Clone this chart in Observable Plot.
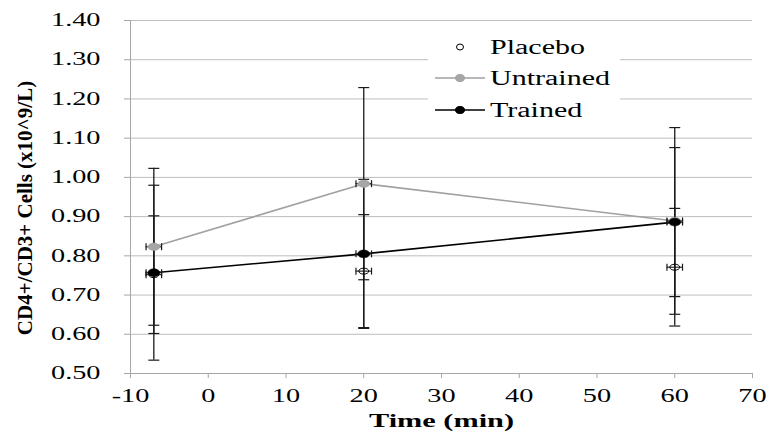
<!DOCTYPE html>
<html><head><meta charset="utf-8">
<script src="https://cdn.jsdelivr.net/npm/d3@7"></script>
<script src="https://cdn.jsdelivr.net/npm/@observablehq/plot@0.6"></script>
<style>
body{margin:0;background:#fff;}
#wrap{position:relative;width:767px;height:432px;}
#legend{position:absolute;left:428px;top:31px;width:192px;height:94px;background:#fff;font-family:"Liberation Serif","Times New Roman",Times,serif;font-size:20px;color:#000;}
.row{position:absolute;left:0;height:30px;width:192px;}
.row svg{position:absolute;left:0;top:0;}
.row span{position:absolute;left:62px;top:50%;transform:translateY(-50%) scaleX(1.5);transform-origin:left center;white-space:nowrap;line-height:1;}
svg text{font-family:"Liberation Serif","Times New Roman",Times,serif;}
</style></head>
<body><div id="wrap"><div id="chart"></div><div id="legend"></div></div>
<script>
const times = [-7, 20, 60];
const timeErr = [1, 1, 1];
const seriesNames = ["Placebo", "Untrained", "Trained"];
const placebo = [0.752, 0.761, 0.771];
const placeboErr = [0.15, 0.144, 0.15];
const untrained = [0.823, 0.984, 0.889];
const untrainedErr = [0.2, 0.245, 0.238];
const trained = [0.757, 0.805, 0.886];
const trainedErr = [0.223, 0.19, 0.19];
const xTicks = [-10, 0, 10, 20, 30, 40, 50, 60, 70];
const yTicks = [0.5, 0.6, 0.7, 0.8, 0.9, 1.0, 1.1, 1.2, 1.3, 1.4];
const xTitle = "Time (min)";
const yTitle = "CD4+/CD3+ Cells (x10^9/L)";

const values = {Placebo: [placebo, placeboErr], Untrained: [untrained, untrainedErr], Trained: [trained, trainedErr]};
const rows = [];
for (const s of seriesNames) {
  const [v, e] = values[s];
  times.forEach((t, i) => rows.push({series: s, t, v: v[i], e: e[i], xe: timeErr[i]}));
}
const bySeries = s => rows.filter(d => d.series === s);

function ellipse(ratio) {
  return {draw(ctx, size) {
    const rx = Math.sqrt(size / Math.PI), ry = rx * ratio, k = 0.5523;
    ctx.moveTo(rx, 0);
    ctx.bezierCurveTo(rx, ry * k, rx * k, ry, 0, ry);
    ctx.bezierCurveTo(-rx * k, ry, -rx, ry * k, -rx, 0);
    ctx.bezierCurveTo(-rx, -ry * k, -rx * k, -ry, 0, -ry);
    ctx.bezierCurveTo(rx * k, -ry, rx, -ry * k, rx, 0);
    ctx.closePath();
  }};
}
const hcap = {draw(ctx, size) { const r = Math.sqrt(size / Math.PI); ctx.moveTo(-r, 0); ctx.lineTo(r, 0); }};
const vcap = {draw(ctx, size) { const r = Math.sqrt(size / Math.PI); ctx.moveTo(0, -r); ctx.lineTo(0, r); }};
const errColor = "#1a1a1a";
const serif = '"Liberation Serif", "Times New Roman", Times, serif';

const chart = Plot.plot({
  width: 767, height: 432,
  marginLeft: 130, marginRight: 15, marginTop: 20, marginBottom: 59,
  style: {fontFamily: serif, fontSize: "18px", color: "#000", background: "#fff"},
  x: {domain: [xTicks[0], xTicks[xTicks.length - 1]]},
  y: {domain: [yTicks[0], yTicks[yTicks.length - 1]]},
  marks: [
    Plot.gridY(yTicks, {stroke: "#bdbdbd", strokeOpacity: 1}),
    Plot.ruleX([xTicks[0]], {stroke: "#a6a6a6"}),
    Plot.ruleY([yTicks[0]], {stroke: "#a6a6a6"}),
    Plot.axisY(yTicks, {tickFormat: d3.format(".2f"), tickSize: 6, tickPadding: 24, stroke: "#a6a6a6", fill: "#000", label: null}),
    Plot.axisX(xTicks, {tickFormat: d => String(d), tickSize: 5, tickPadding: 11, stroke: "#a6a6a6", fill: "#000", label: null}),
    Plot.line(bySeries("Untrained"), {x: "t", y: "v", stroke: "#a0a0a0", strokeWidth: 1.6}),
    Plot.line(bySeries("Trained"), {x: "t", y: "v", stroke: "#000", strokeWidth: 1.6}),
    Plot.ruleX(rows, {x: "t", y1: d => d.v - d.e, y2: d => d.v + d.e, stroke: errColor, strokeWidth: 1.3}),
    Plot.dot(rows, {x: "t", y: d => d.v + d.e, symbol: hcap, r: 5.5, fill: "none", stroke: errColor, strokeWidth: 1.2}),
    Plot.dot(rows, {x: "t", y: d => d.v - d.e, symbol: hcap, r: 5.5, fill: "none", stroke: errColor, strokeWidth: 1.2}),
    Plot.ruleY(rows, {y: "v", x1: d => d.t - d.xe, x2: d => d.t + d.xe, stroke: errColor, strokeWidth: 1.1}),
    Plot.dot(rows, {x: d => d.t - d.xe, y: "v", symbol: vcap, r: 3.5, fill: "none", stroke: errColor, strokeWidth: 1.2}),
    Plot.dot(rows, {x: d => d.t + d.xe, y: "v", symbol: vcap, r: 3.5, fill: "none", stroke: errColor, strokeWidth: 1.2}),
    Plot.dot(bySeries("Placebo"), {x: "t", y: "v", symbol: ellipse(0.6), r: 5, fill: "none", stroke: "#000", strokeWidth: 1}),
    Plot.dot(bySeries("Untrained"), {x: "t", y: "v", symbol: ellipse(0.62), r: 6, fill: "#a6a6a6", stroke: "#a6a6a6", strokeWidth: 0.5}),
    Plot.dot(bySeries("Trained"), {x: "t", y: "v", symbol: ellipse(0.65), r: 6, fill: "#000", stroke: "#000", strokeWidth: 0.5}),
    Plot.text([yTitle], {text: d => d, frameAnchor: "left", textAnchor: "middle", lineAnchor: "middle", dx: -105, dy: 11, rotate: -90, fontWeight: "bold", fontSize: 21, fill: "#000"}),
    Plot.text([xTitle], {text: d => d, frameAnchor: "bottom", textAnchor: "middle", lineAnchor: "middle", dy: 47, fontWeight: "bold", fontSize: 19, fill: "#000"})
  ]
});
document.getElementById("chart").appendChild(chart);

// horizontal stretch of the (non-rotated) texts to match the reference's wide glyphs
chart.querySelectorAll("text").forEach(t => {
  if (t.textContent === yTitle) return;
  const w = t.getComputedTextLength();
  if (!w) return;
  let target = w * 1.57;
  if (t.textContent === xTitle) target = 145;
  t.setAttribute("textLength", target.toFixed(1));
  t.setAttribute("lengthAdjust", "spacingAndGlyphs");
});

// legend
const legend = document.getElementById("legend");
const legendStyle = {
  Placebo: {line: null, fill: "none", stroke: "#000", rx: 3.5, ry: 3},
  Untrained: {line: "#a0a0a0", fill: "#a6a6a6", stroke: "#a6a6a6", rx: 4.5, ry: 3.5},
  Trained: {line: "#000", fill: "#000", stroke: "#000", rx: 4.5, ry: 3.5}
};
const rowTops = [1, 32, 64];
seriesNames.forEach((s, i) => {
  const st = legendStyle[s];
  const row = document.createElement("div");
  row.className = "row";
  row.style.top = rowTops[i] + "px";
  row.innerHTML = `<svg width="60" height="30">${st.line ? `<line x1="7" x2="57" y1="15" y2="15" stroke="${st.line}" stroke-width="1.6"/>` : ""}<ellipse cx="32" cy="15" rx="${st.rx}" ry="${st.ry}" fill="${st.fill}" stroke="${st.stroke}" stroke-width="1"/></svg><span>${s}</span>`;
  legend.appendChild(row);
});
</script>
</body></html>
